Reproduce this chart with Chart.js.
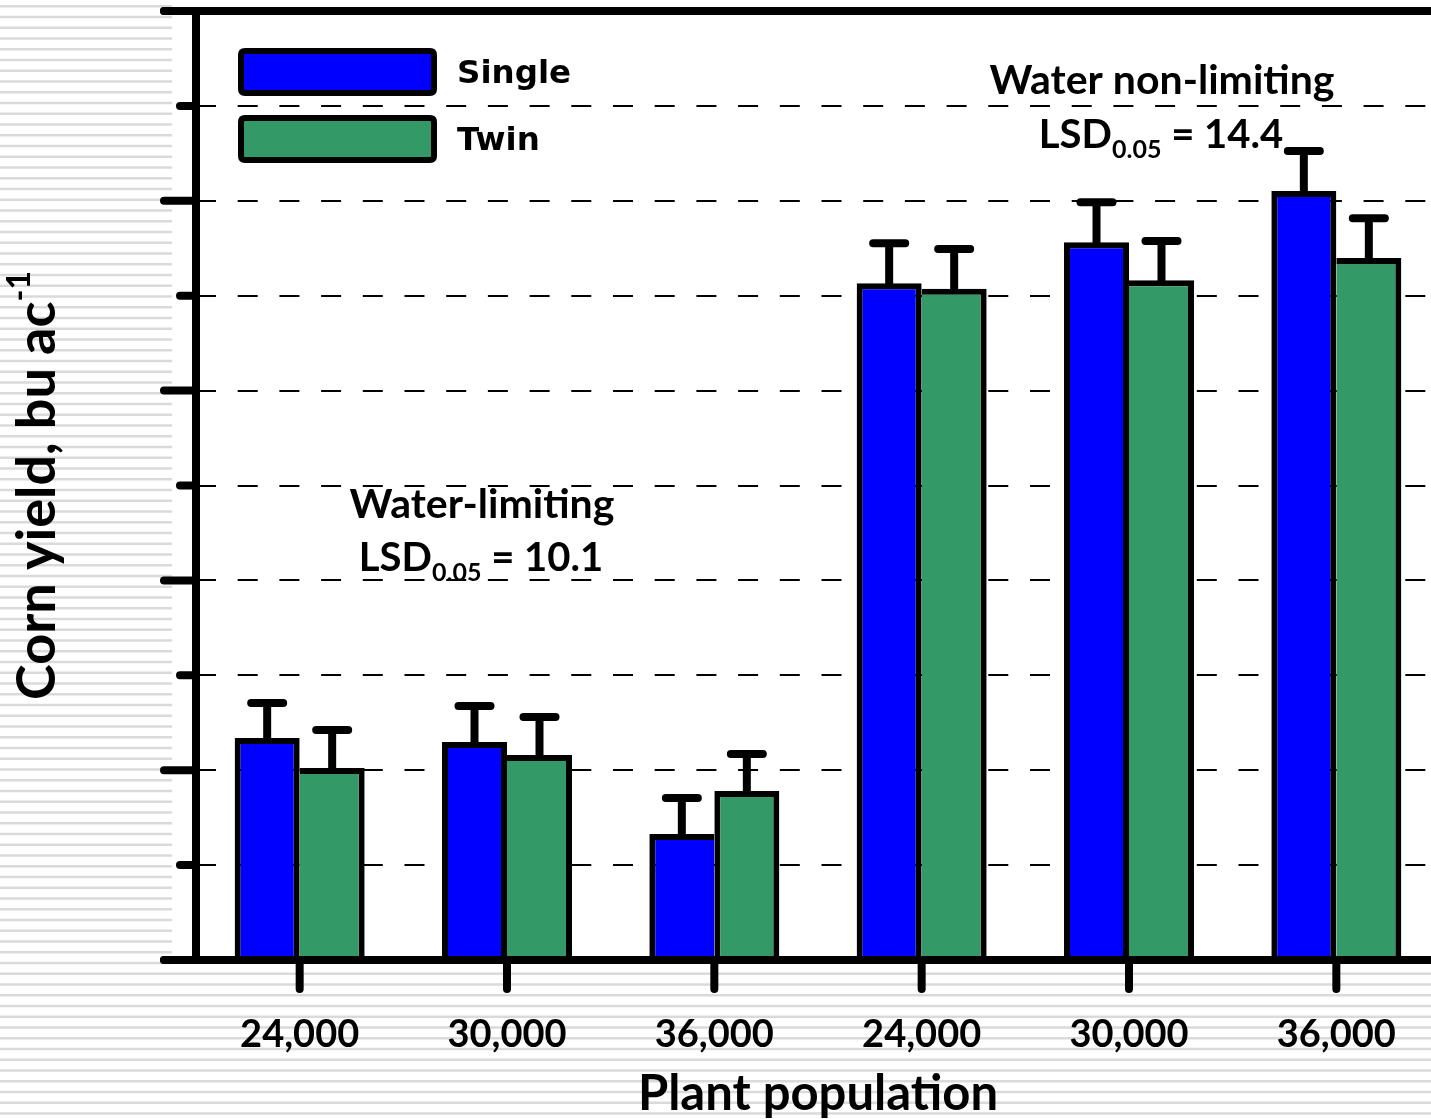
<!DOCTYPE html>
<html>
<head>
<meta charset="utf-8">
<script src="https://cdn.jsdelivr.net/npm/chart.js@4.4.1/dist/chart.umd.min.js"></script>
<style>
  html, body { margin: 0; padding: 0; overflow: hidden; background: #fff; }
  #wrap { width: 1431px; height: 1119px; overflow: hidden; position: relative; }
  canvas { display: block; }
</style>
</head>
<body>
<div id="wrap"><canvas id="c" width="1441" height="1119"></canvas></div>
<script>
// Plant populations (plants/ac) for the water-limiting and water non-limiting sites
const populations = ['24,000', '30,000', '36,000', '24,000', '30,000', '36,000'];
// Corn yield, bu/ac
const singleYield = [58.5, 57.4, 33.2, 178.3, 189.1, 202.6];
const twinYield   = [50.6, 54.0, 44.5, 176.8, 179.1, 184.9];
// Standard error (upper whisker only)
const singleErr = [9.2, 9.5, 9.5, 10.5, 10.5, 10.5];
const twinErr   = [10.0, 10.0, 9.8, 10.5, 10.3, 10.5];
// Y axis grid values (labels are not shown)
const yTicks = [0, 25, 50, 75, 100, 125, 150, 175, 200, 225, 250];
// Site notes
const siteTitles = ['Water-limiting', 'Water non-limiting'];
const siteLsd = ['10.1', '14.4'];

const BLUE = '#0000ff';
const GREEN = '#339966';
const CAL = '"Lato", "Liberation Sans", sans-serif';

function roundRect(ctx, x, y, w, h, r) {
  ctx.beginPath();
  ctx.moveTo(x + r, y);
  ctx.lineTo(x + w - r, y);
  ctx.quadraticCurveTo(x + w, y, x + w, y + r);
  ctx.lineTo(x + w, y + h - r);
  ctx.quadraticCurveTo(x + w, y + h, x + w - r, y + h);
  ctx.lineTo(x + r, y + h);
  ctx.quadraticCurveTo(x, y + h, x, y + h - r);
  ctx.lineTo(x, y + r);
  ctx.quadraticCurveTo(x, y, x + r, y);
  ctx.closePath();
}

// LSD line: "LSD" + subscript "0.05" + " = value", centred on cx
function drawLsd(ctx, cx, cy, value) {
  const big = 'bold 40px ' + CAL, small = 'bold 25px ' + CAL;
  ctx.font = big; const w1 = ctx.measureText('LSD').width;
  ctx.font = small; const w2 = ctx.measureText('0.05').width;
  ctx.font = big; const w3 = ctx.measureText(' = ' + value).width;
  let x = cx - (w1 + w2 + w3) / 2;
  ctx.textAlign = 'left'; ctx.textBaseline = 'middle';
  ctx.font = big; ctx.fillText('LSD', x, cy); x += w1;
  ctx.font = small; ctx.fillText('0.05', x, cy + 15); x += w2;
  ctx.font = big; ctx.fillText(' = ' + value, x, cy);
}

const decorPlugin = {
  id: 'decor',
  beforeDraw(chart) {
    const ctx = chart.ctx, W = chart.width, H = chart.height;
    ctx.save();
    ctx.fillStyle = '#ffffff';
    ctx.fillRect(0, 0, W, H);
    ctx.fillStyle = '#dadada';
    for (let y = 5; y < H; y += 10.75) ctx.fillRect(0, y, W, 2.5);
    ctx.fillStyle = '#ffffff';
    ctx.fillRect(172, 0, W - 172, 966);
    ctx.restore();
  },
  beforeDatasetsDraw(chart) {
    const ctx = chart.ctx, ys = chart.scales.y, a = chart.chartArea;
    ctx.save();
    ctx.strokeStyle = '#000';
    ctx.lineWidth = 2;
    ctx.setLineDash([20, 21.7]);
    yTicks.forEach(v => {
      if (v === ys.min || v === ys.max) return;
      const y = Math.round(ys.getPixelForValue(v));
      ctx.beginPath();
      ctx.moveTo(a.left, y);
      ctx.lineTo(a.right + 5, y);
      ctx.stroke();
    });
    ctx.restore();
  },
  afterDatasetsDraw(chart) {
    const ctx = chart.ctx, ys = chart.scales.y, xs = chart.scales.x, a = chart.chartArea;
    const errs = [singleErr, twinErr];
    ctx.save();
    // error whiskers
    ctx.strokeStyle = '#000';
    ctx.lineWidth = 8;
    chart.data.datasets.forEach((ds, di) => {
      const meta = chart.getDatasetMeta(di);
      meta.data.forEach((bar, i) => {
        const top = ys.getPixelForValue(ds.data[i] + errs[di][i]);
        ctx.lineCap = 'butt';
        ctx.beginPath(); ctx.moveTo(bar.x, bar.y + 3); ctx.lineTo(bar.x, top); ctx.stroke();
        ctx.lineCap = 'round';
        ctx.beginPath(); ctx.moveTo(bar.x - 16, top); ctx.lineTo(bar.x + 16, top); ctx.stroke();
      });
    });

    // axis frame
    const L = a.left, B = ys.getPixelForValue(ys.min), T = ys.getPixelForValue(ys.max);
    ctx.lineWidth = 8;
    ctx.lineCap = 'butt';
    ctx.beginPath(); ctx.moveTo(L, T - 4); ctx.lineTo(L, B + 4); ctx.stroke();
    ctx.lineCap = 'round';
    ctx.beginPath(); ctx.moveTo(164, T); ctx.lineTo(chart.width + 10, T); ctx.stroke();
    ctx.beginPath(); ctx.moveTo(164, B); ctx.lineTo(chart.width + 10, B); ctx.stroke();
    // y ticks: long every 50, short between
    yTicks.forEach(v => {
      const y = ys.getPixelForValue(v);
      const x0 = (v % 50 === 0) ? 164 : 180;
      ctx.beginPath(); ctx.moveTo(x0, y); ctx.lineTo(L, y); ctx.stroke();
    });
    // x ticks and labels
    ctx.fillStyle = '#000';
    ctx.font = 'bold 38px ' + CAL;
    ctx.textAlign = 'center'; ctx.textBaseline = 'middle';
    chart.data.labels.forEach((lab, i) => {
      const x = xs.getPixelForValue(i);
      ctx.beginPath(); ctx.moveTo(x, B); ctx.lineTo(x, 989); ctx.stroke();
      ctx.fillText(lab, x, 1035);
    });
    // axis titles
    ctx.font = 'bold 49px ' + CAL;
    ctx.fillText('Plant population', (a.left + a.right) / 2, 1094);
    ctx.save();
    ctx.translate(38, (T + B) / 2);
    ctx.rotate(-Math.PI / 2);
    const main = 'Corn yield, bu ac', sup = '-1';
    ctx.font = 'bold 54px ' + CAL; const mw = ctx.measureText(main).width;
    ctx.font = 'bold 32px ' + CAL; const sw = ctx.measureText(sup).width;
    ctx.textAlign = 'left';
    ctx.font = 'bold 54px ' + CAL; ctx.fillText(main, -(mw + sw) / 2, 0);
    ctx.font = 'bold 32px ' + CAL; ctx.fillText(sup, -(mw + sw) / 2 + mw, -18);
    ctx.restore();

    // legend
    chart.data.datasets.forEach((ds, di) => {
      const y0 = 51 + di * 67;
      roundRect(ctx, 241, y0, 193, 42, 4);
      ctx.fillStyle = ds.backgroundColor;
      ctx.fill();
      ctx.lineWidth = 6; ctx.lineJoin = 'round';
      ctx.strokeStyle = '#000';
      ctx.stroke();
      ctx.fillStyle = '#000';
      ctx.font = 'bold 32.5px "DejaVu Sans", sans-serif';
      ctx.textAlign = 'left'; ctx.textBaseline = 'middle';
      ctx.fillText(ds.label, 457, y0 + 24);
    });

    // site notes
    ctx.fillStyle = '#000';
    ctx.textAlign = 'center'; ctx.textBaseline = 'middle';
    ctx.font = 'bold 41px ' + CAL;
    ctx.fillText(siteTitles[0], 482, 505);
    drawLsd(ctx, 481, 558, siteLsd[0]);
    ctx.textAlign = 'center';
    ctx.font = 'bold 41px ' + CAL;
    ctx.fillText(siteTitles[1], 1162, 81);
    drawLsd(ctx, 1161, 135, siteLsd[1]);
    ctx.restore();
  }
};

// shared side between the two bars of a pair is drawn once, by the taller bar
function sideBorders(own, other, sharedSide) {
  return (i) => {
    const b = { top: 6, left: 6, right: 6, bottom: 0 };
    const tallest = sharedSide === 'right' ? own[i] >= other[i] : own[i] > other[i];
    b[sharedSide] = tallest ? 6 : 0;
    return b;
  };
}
const singleBorder = sideBorders(singleYield, twinYield, 'right');
const twinBorder = sideBorders(twinYield, singleYield, 'left');

new Chart(document.getElementById('c'), {
  type: 'bar',
  data: {
    labels: populations,
    datasets: [
      { label: 'Single', data: singleYield, backgroundColor: BLUE, borderColor: '#000',
        borderWidth: ctx => singleBorder(ctx.dataIndex), borderSkipped: false },
      { label: 'Twin', data: twinYield, backgroundColor: GREEN, borderColor: '#000',
        borderWidth: ctx => twinBorder(ctx.dataIndex), borderSkipped: false }
    ]
  },
  options: {
    responsive: false,
    animation: false,
    devicePixelRatio: 1,
    layout: { padding: { left: 196, top: 11, right: 1, bottom: 159 } },
    datasets: { bar: { categoryPercentage: 0.627, barPercentage: 1.0 } },
    plugins: { legend: { display: false }, tooltip: { enabled: false } },
    scales: {
      x: { display: false },
      y: { display: false, min: 0, max: 250, ticks: { stepSize: 25 } }
    }
  },
  plugins: [decorPlugin]
});
</script>
</body>
</html>
